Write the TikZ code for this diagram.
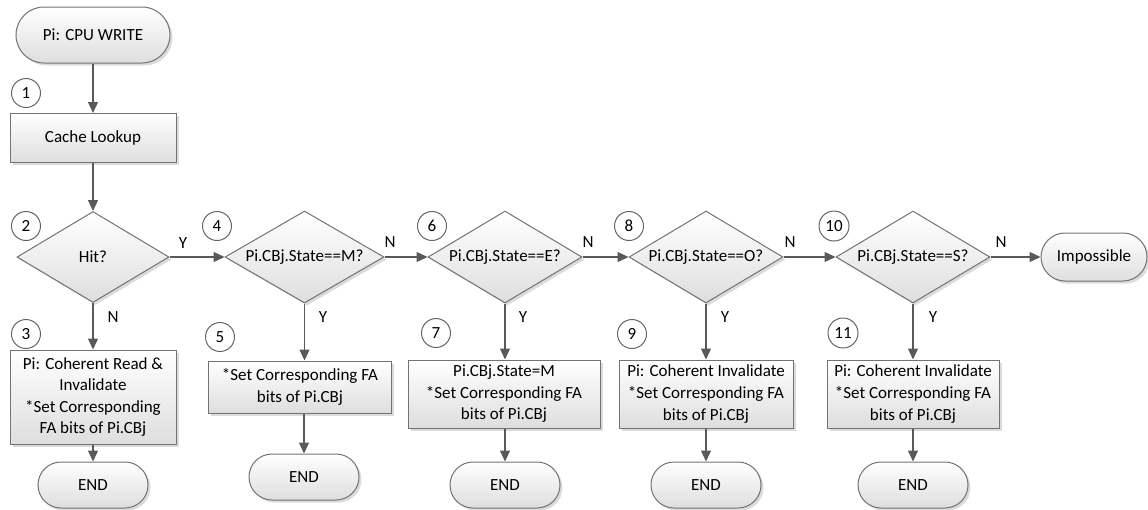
\documentclass[tikz,border=0pt]{standalone}
\usepackage{fontspec}
\setmainfont{Carlito}
\usetikzlibrary{shapes.geometric,arrows.meta,shadows}

\begin{document}
\begin{tikzpicture}[x=1pt,y=-1pt,
  font=\fontsize{17}{21.6}\selectfont,
  base/.style={draw=black!55, line width=1pt, top color=white, bottom color=black!13,
    drop shadow={shadow xshift=2.5pt, shadow yshift=-2.5pt, fill=black!14, opacity=1},
    text=black},
  procbox/.style={base, rectangle, align=center, inner sep=2pt},
  termbox/.style={base, rectangle, rounded corners=23pt, minimum width=110pt, minimum height=46pt},
  decide/.style={base, diamond, aspect=1.67, inner sep=0pt, minimum width=154pt, minimum height=92pt},
  num/.style={circle, draw=black!60, line width=1pt, fill=white, minimum size=29pt, inner sep=0pt, text=black},
  flow/.style={draw=black!65, line width=1.2pt, -{Triangle[length=11pt,width=10pt]}},
  lab/.style={inner sep=0pt, text=black}]

\useasboundingbox (0,0) rectangle (1148,509);

% main column: start, lookup, hit test, miss path
\node[termbox, minimum width=154pt, minimum height=56pt, rounded corners=28pt] (start) at (93,35) {Pi: CPU WRITE};
\node[procbox, minimum width=166pt, minimum height=49pt] (lookup) at (93,138) {Cache Lookup};
\node[decide, minimum width=152pt, minimum height=91pt] (hit) at (93,257) {Hit?};
\node[procbox, minimum width=166pt, minimum height=94pt] (b3) at (93,397) {Pi: Coherent Read \&\\Invalidate\\*Set Corresponding\\FA bits of Pi.CBj};
\node[termbox] (e3) at (93,485) {END};

% state tests
\node[decide, minimum width=159pt] (d4) at (304.5,257) {Pi.CBj.State==M?};
\node[decide] (d6) at (505,257) {Pi.CBj.State==E?};
\node[decide] (d8) at (706,257) {Pi.CBj.State==O?};
\node[decide] (d10) at (913,257) {Pi.CBj.State==S?};
\node[termbox, minimum width=106pt, minimum height=48pt, rounded corners=24pt] (imp) at (1094,257) {Impossible};

% actions
\node[procbox, minimum width=183pt, minimum height=52pt] (b5) at (300,387) {*Set Corresponding FA\\bits of Pi.CBj};
\node[procbox, minimum width=192pt, minimum height=68pt] (b7) at (504,394) {Pi.CBj.State=M\\*Set Corresponding FA\\bits of Pi.CBj};
\node[procbox, minimum width=174pt, minimum height=68pt] (b9) at (706,394) {Pi: Coherent Invalidate\\*Set Corresponding FA\\bits of Pi.CBj};
\node[procbox, minimum width=172pt, minimum height=68pt] (b11) at (913,394) {Pi: Coherent Invalidate\\*Set Corresponding FA\\bits of Pi.CBj};

% end points
\node[termbox] (e5) at (304,477) {END};
\node[termbox] (e7) at (505,485) {END};
\node[termbox] (e9) at (706,485) {END};
\node[termbox] (e11) at (913,485) {END};

% step numbers
\node[num] (c1) at (26,93) {1};
\node[num] (c2) at (26,226) {2};
\node[num] (c3) at (26,334) {3};
\node[num] (c4) at (217,226) {4};
\node[num] (c5) at (220,337) {5};
\node[num] (c6) at (432,226) {6};
\node[num] (c7) at (436,333) {7};
\node[num] (c8) at (629,226) {8};
\node[num] (c9) at (632,334) {9};
\node[num, minimum size=30pt] (c10) at (834,226) {10};
\node[num, minimum size=30pt] (c11) at (843,333) {11};

% connectors
\draw[flow] (start) -- (lookup);
\draw[flow] (lookup) -- (hit);
\draw[flow] (hit) -- (b3);
\draw[flow] (b3) -- (e3);
\draw[flow] (hit.east) -- (d4.west);
\draw[flow] (d4.east) -- (d6.west);
\draw[flow] (d6.east) -- (d8.west);
\draw[flow] (d8.east) -- (d10.west);
\draw[flow] (d10.east) -- (imp.west);
\draw[flow] (d4.south) -- (d4.south |- b5.north);
\draw[flow] (e5.north |- b5.south) -- (e5.north);
\draw[flow] (d6.south) -- (d6.south |- b7.north);
\draw[flow] (e7.north |- b7.south) -- (e7.north);
\draw[flow] (d8.south) -- (d8.south |- b9.north);
\draw[flow] (e9.north |- b9.south) -- (e9.north);
\draw[flow] (d10.south) -- (d10.south |- b11.north);
\draw[flow] (e11.north |- b11.south) -- (e11.north);

% branch labels
\node[lab] (y2) at (183,243) {Y};
\node[lab] (n2) at (113,317) {N};
\node[lab] (n4) at (390,242) {N};
\node[lab] (y4) at (323,317) {Y};
\node[lab] (n6) at (588,242) {N};
\node[lab] (y6) at (523,317) {Y};
\node[lab] (n8) at (790,242) {N};
\node[lab] (y8) at (725,317) {Y};
\node[lab] (n10) at (1001,242) {N};
\node[lab] (y10) at (933,317) {Y};
\end{tikzpicture}
\end{document}
